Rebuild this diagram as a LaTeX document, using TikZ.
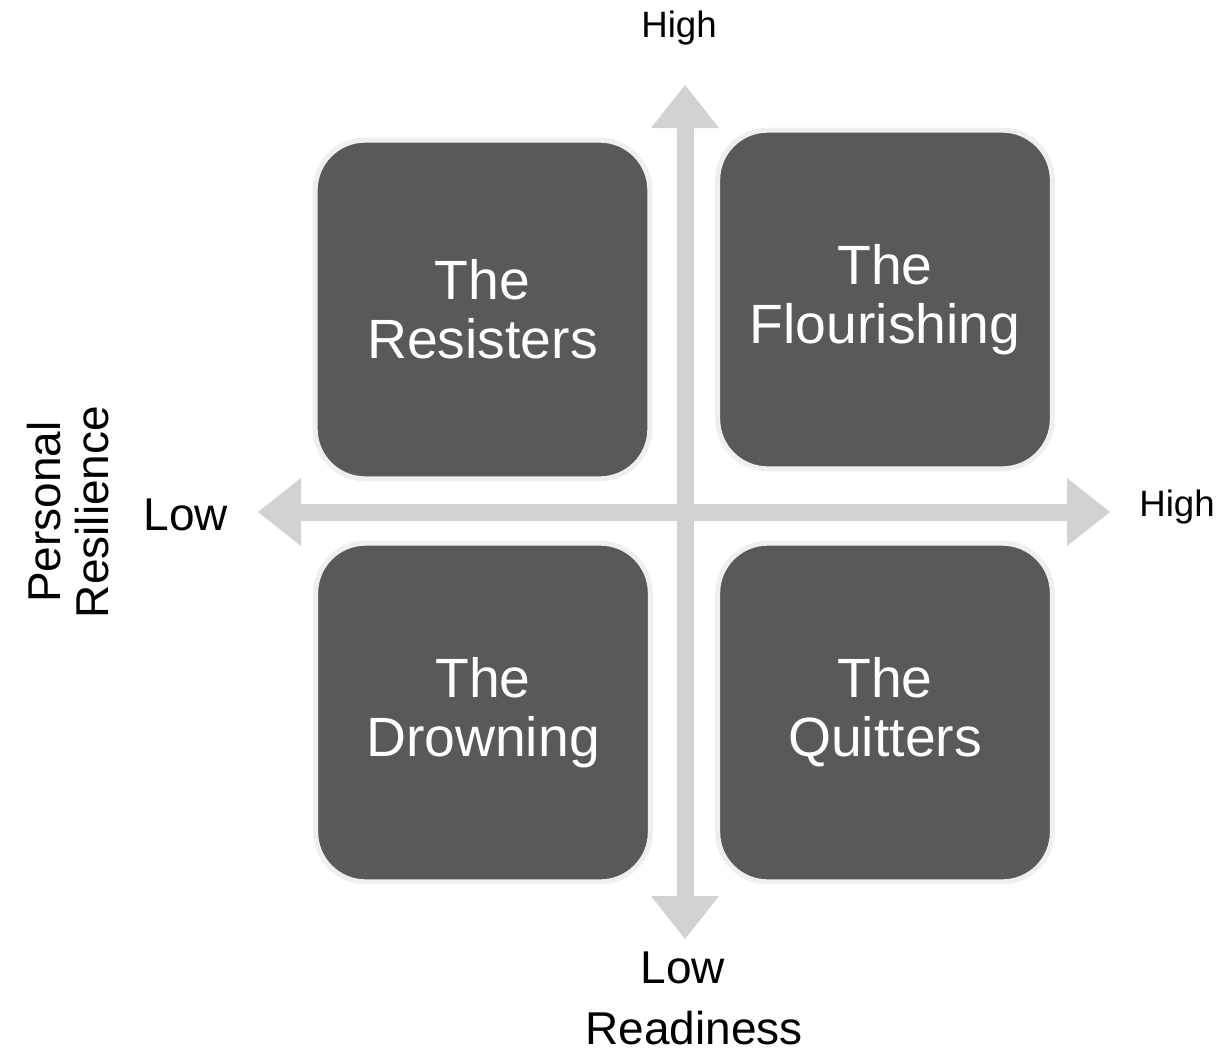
\documentclass[tikz,border=0pt]{standalone}
\usepackage{fontspec}
\setmainfont{Liberation Sans}
\usetikzlibrary{arrows.meta}

\definecolor{boxgray}{HTML}{595959}
\definecolor{rimgray}{HTML}{EFEFEF}
\definecolor{axisgray}{HTML}{D2D2D2}

\tikzset{
    quadrant/.style={draw=rimgray, line width=3.75pt, fill=boxgray, rounded corners=37.5pt,
        minimum width=251pt, minimum height=254pt, align=center, text=white,
        font=\fontsize{41.5}{44}\selectfont},
    axis/.style={draw=axisgray, line width=12.75pt,
        {Triangle[length=32.25pt, width=51pt, line width=0pt]}-{Triangle[length=32.25pt, width=51pt, line width=0pt]}},
    biglabel/.style={font=\fontsize{34.5}{36}\selectfont, align=center},
    smalllabel/.style={font=\fontsize{27.5}{29}\selectfont}
}

\begin{document}
\begin{tikzpicture}[x=0.75pt, y=-0.75pt]
            \useasboundingbox (0,0) rectangle (1219,1053);
            % axes
            \coordinate (xlow) at (258,512);
            \coordinate (xhigh) at (1110,512);
            \coordinate (ylow) at (685,939);
            \coordinate (yhigh) at (685,85);
            \draw[axis] (xlow) -- (xhigh);
            \draw[axis] (ylow) -- (yhigh);
            % the four groups
            \node[quadrant] (resisters) at (482.5,309.5) {The\\Resisters};
            \node[quadrant] (flourishing) at (885,299.5) {The\\Flourishing};
            \node[quadrant] (drowning) at (483,712.5) {The\\Drowning};
            \node[quadrant] (quitters) at (885,712.5) {The\\Quitters};
            % labels
            \node[smalllabel] (tophigh) at (679,28) {High};
            \node[smalllabel] (righthigh) at (1177,507) {High};
            \node[biglabel] (leftlow) at (186,515) {Low};
            \node[biglabel] (bottomlow) at (683,968) {Low};
            \node[biglabel] (readiness) at (694,1028) {Readiness};
            \node[biglabel, rotate=90] (resilience) at (68,512) {Personal\\Resilience};
        \end{tikzpicture}
\end{document}
